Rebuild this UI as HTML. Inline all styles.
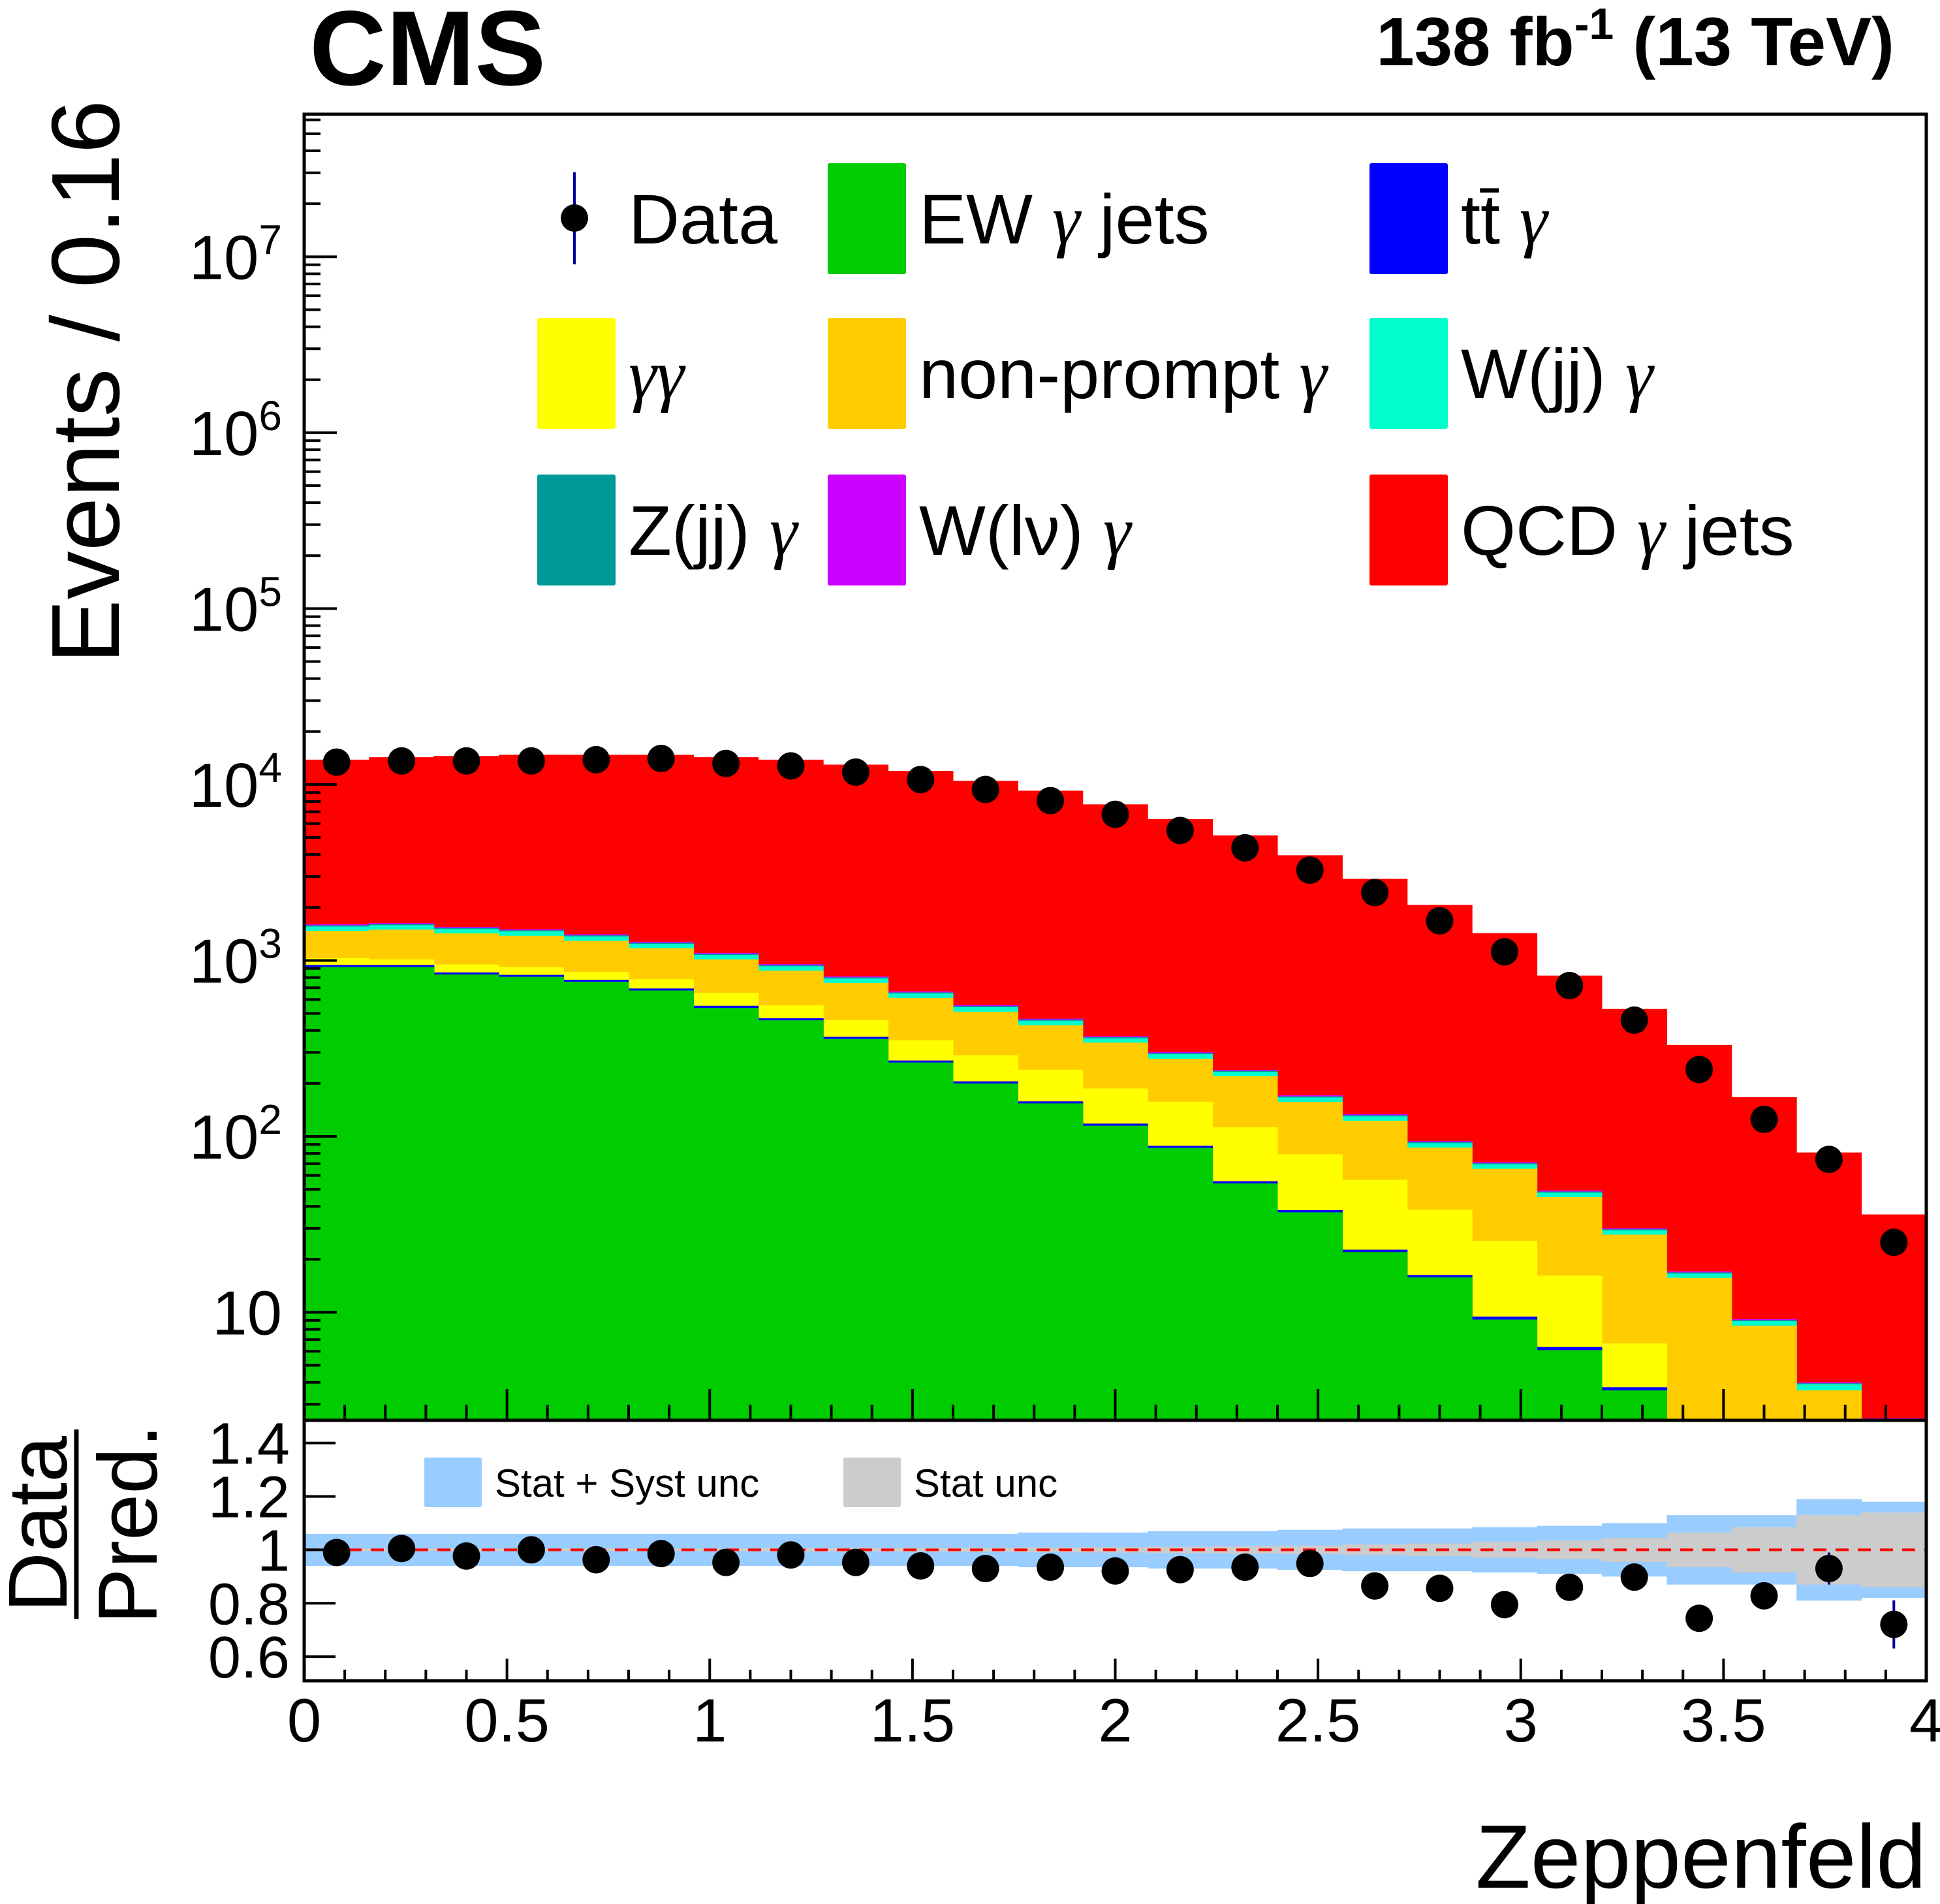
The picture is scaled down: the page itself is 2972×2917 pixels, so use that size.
<!DOCTYPE html>
<html><head><meta charset="utf-8">
<style>
html,body{margin:0;padding:0;background:#fff;}
svg{display:block;font-family:"Liberation Sans",sans-serif;}
.g{font-family:"Liberation Serif",serif;font-style:italic;}
</style></head>
<body>
<svg id="chart" width="2972" height="2917" viewBox="0 0 2972 2917" xmlns="http://www.w3.org/2000/svg">
<text x="474" y="130" font-size="163" font-weight="bold">CMS</text>
<text x="2902" y="100" font-size="105" font-weight="bold" text-anchor="end">138 fb<tspan font-size="68" dy="-40">-1</tspan><tspan dy="40"> (13 TeV)</tspan></text>
<text transform="translate(182,585) rotate(-90)" font-size="148" text-anchor="middle">Events / 0.16</text>
<text transform="translate(102,2335) rotate(-90)" font-size="128" text-anchor="middle">Data</text>
<line x1="117" y1="2190" x2="117" y2="2480" stroke="#000" stroke-width="7"/>
<text transform="translate(240,2335) rotate(-90)" font-size="128" text-anchor="middle">Pred.</text>
<text x="2951" y="2892" font-size="138" text-anchor="end">Zeppenfeld</text>
<g id="main"></g>
<g id="ratio"></g>
<g id="axes"></g>
<g id="legend"></g>
</svg>
<script>
// ---- data ----
const binEdgesStart = 0, binWidth = 0.16;
const ewGammaJets = [918,918,833,807,757,675,538,457,358,263,200,154,115,86,54,37,22,15.8,9.1,6.1,3.6,0,0,0,0];
const ttGamma = [25,25,22,21,20,18,15,12,10,7,5.5,4.2,3.2,2.4,1.6,1.1,0.7,0.5,0.35,0.25,0.15,0,0,0,0];
const gammaGamma = [87,71,94,90,84,89,101,87,89,82,84,81,69,69,57,41,34,22,16,9.8,2.9,0.1,0,0,0];
const nonPrompt = [442,482,476,462,431,391,360,319,288,260,222,189,154,119,107,78,66,48,40,29,21,15.6,8.4,3.6,0];
const wjjGamma = [88,90,85,83,78,70,61,52,45,37,31,26,20,17,13,9.4,7.4,5.2,3.9,2.7,1.6,0.9,0.5,0.3,0];
const zjjGamma = [22,22,21,21,19,17,15,13,11,9,7.7,6.4,5,4.1,3.3,2.4,1.8,1.3,1,0.7,0.4,0.25,0.13,0.05,0];
const wlnuGamma = [22,22,21,20,19,17,15,13,11,9,7.5,6.3,5,4,3.2,2.3,1.8,1.3,1,0.7,0.4,0.25,0.12,0.05,2.5];
const qcdGammaJets = [12240,12660,12970,13260,13350,13480,13190,12890,12160,11290,9940,8755,7340,6050,4900,3790,2776,1976,1359,771,500,314,158,77,33.5];
const dataValues = [13400,13620,13620,13620,13840,14060,13180,12760,11760,10670,9370,8100,6770,5480,4370,3260,2430,1680,1120,720,458,240,125,74,25];
const ratioValues = [0.99,1.005,0.977,1.0,0.963,0.986,0.953,0.981,0.953,0.94,0.93,0.935,0.921,0.926,0.935,0.949,0.865,0.856,0.795,0.86,0.898,0.744,0.828,0.93,0.721];
const ratioErrors = [0.005,0.005,0.005,0.005,0.005,0.005,0.005,0.005,0.006,0.006,0.007,0.008,0.009,0.01,0.011,0.013,0.015,0.018,0.022,0.027,0.033,0.045,0.045,0.06,0.09];
const totUnc = [0.06,0.06,0.06,0.06,0.06,0.06,0.06,0.06,0.06,0.06,0.06,0.065,0.065,0.07,0.07,0.075,0.08,0.08,0.085,0.09,0.1,0.13,0.13,0.19,0.18];
const statUnc = [0.005,0.005,0.005,0.005,0.005,0.005,0.005,0.006,0.006,0.007,0.008,0.009,0.01,0.012,0.014,0.016,0.02,0.024,0.03,0.035,0.045,0.065,0.085,0.13,0.14];
const xTickLabels = ["0","0.5","1","1.5","2","2.5","3","3.5","4"];
const yDecadeLabels = ["10","10²","10³","10⁴","10⁵","10⁶","10⁷"];
const ratioTickLabels = ["0.6","0.8","1","1.2","1.4"];

// ---- geometry ----
const L=466,R=2951,T=175,MB=2176,RT=2180,RB=2575;
const xMin=0,xMax=4, logMin=0.386, logMax=7.81, rMin=0.51, rMax=1.475;
const NS="http://www.w3.org/2000/svg";
const xs=v=>L+(v-xMin)/(xMax-xMin)*(R-L);
const ys=v=>{const lv=Math.log10(Math.max(v,1e-3));return MB-(lv-logMin)/(logMax-logMin)*(MB-T);};
const yr=v=>RB-(v-rMin)/(rMax-rMin)*(RB-RT);
const clampM=y=>Math.max(T,Math.min(MB,y));
const clampR=y=>Math.max(RT,Math.min(RB,y));
function mk(tag,attrs,parent){const e=document.createElementNS(NS,tag);for(const k in attrs)e.setAttribute(k,attrs[k]);parent.appendChild(e);return e;}

const main=document.getElementById('main');
const stackOrder=[[ewGammaJets,'#00cc00','ew-gamma-jets'],[ttGamma,'#0000ff','tt-gamma'],[gammaGamma,'#ffff00','gamma-gamma'],[nonPrompt,'#ffcc00','non-prompt-gamma'],[wjjGamma,'#00ffcc','wjj-gamma'],[zjjGamma,'#009999','zjj-gamma'],[wlnuGamma,'#cc00ff','wlnu-gamma'],[qcdGammaJets,'#ff0000','qcd-gamma-jets']];
const cum=new Array(25).fill(0);
const layers=[];
stackOrder.forEach(([arr,col,name])=>{
  const lo=cum.slice();
  for(let i=0;i<25;i++)cum[i]+=arr[i];
  layers.push([lo,cum.slice(),col,name]);
});
for(let k=layers.length-1;k>=0;k--){
  const [lo,hi,col,name]=layers[k];
  for(let i=0;i<25;i++){
    if(hi[i]<=0)continue;
    const x0=xs(binEdgesStart+i*binWidth),x1=xs(binEdgesStart+(i+1)*binWidth);
    const y1=clampM(ys(hi[i]));
    const r=mk('rect',{x:x0,y:y1,width:x1-x0+0.5,height:MB-y1,fill:col},main);
    
    
  }
}
for(let i=0;i<25;i++){
  const cx=xs(binEdgesStart+(i+0.5)*binWidth),cy=ys(dataValues[i]);
  const c=mk('circle',{cx:cx,cy:cy,r:21,fill:'#000'},main);
  
  
}

// ratio panel
const ratio=document.getElementById('ratio');
for(let i=0;i<25;i++){
  const x0=xs(i*binWidth),x1=xs((i+1)*binWidth);
  const b=mk('rect',{x:x0,y:clampR(yr(1+totUnc[i])),width:x1-x0+0.5,height:clampR(yr(1-totUnc[i]))-clampR(yr(1+totUnc[i])),fill:'#99ccff'},ratio);
  
  
  const s=mk('rect',{x:x0,y:yr(1+statUnc[i]),width:x1-x0+0.5,height:yr(1-statUnc[i])-yr(1+statUnc[i]),fill:'#cccccc'},ratio);
  
  
}
const ln=mk('line',{x1:L,x2:R,y1:yr(1),y2:yr(1),stroke:'#ff0000','stroke-width':4,'stroke-dasharray':'20 14'},ratio);


for(let i=0;i<25;i++){
  const cx=xs((i+0.5)*binWidth),cy=yr(ratioValues[i]);
  if(ratioErrors[i]>0.02){
    const e=mk('line',{x1:cx,x2:cx,y1:clampR(yr(ratioValues[i]+ratioErrors[i])),y2:clampR(yr(ratioValues[i]-ratioErrors[i])),stroke:'#000099','stroke-width':4},ratio);
    
    
  }
  const c=mk('circle',{cx:cx,cy:cy,r:21,fill:'#000'},ratio);
  
  
}

// axes
const ax=document.getElementById('axes');
const f1=mk('rect',{x:L,y:T,width:R-L,height:MB-T,fill:'none',stroke:'#000','stroke-width':5},ax);
 
const f2=mk('rect',{x:L,y:MB,width:R-L,height:RB-MB,fill:'none',stroke:'#000','stroke-width':5},ax);
 
for(let k=0;k<=40;k++){
  const v=k*0.1,x=xs(v),major=(k%5===0);
  const len=major?48:24;
  mk('line',{x1:x,x2:x,y1:MB,y2:MB-len,stroke:'#000','stroke-width':4},ax);
  mk('line',{x1:x,x2:x,y1:RB,y2:RB-(major?34:17),stroke:'#000','stroke-width':4},ax);
}
xTickLabels.forEach((lab,i)=>{
  const t=mk('text',{x:xs(i*0.5),y:2668,'font-size':94,'text-anchor':'middle'},ax);
  t.textContent=lab;
  
  
});
for(let d=0;d<=7;d++){
  for(let m=1;m<=9;m++){
    const v=m*Math.pow(10,d),y=ys(v);
    if(y<T-1||y>MB+1)continue;
    mk('line',{x1:L,x2:L+(m===1?50:25),y1:y,y2:y,stroke:'#000','stroke-width':4},ax);
  }
}
yDecadeLabels.forEach((lab,i)=>{
  const v=Math.pow(10,i+1),y=ys(v);
  const t=mk('text',{x:432,y:y+34,'font-size':96,'text-anchor':'end'},ax);
  if(i===0){t.textContent=lab;}else{
    t.textContent='10';
    const sp=mk('tspan',{'font-size':64,dy:-38},t);sp.textContent=String(i+1);
  }
  
  
});
ratioTickLabels.forEach(lab=>{
  const v=parseFloat(lab),y=yr(v);
  mk('line',{x1:L,x2:L+48,y1:y,y2:y,stroke:'#000','stroke-width':4},ax);
  const t=mk('text',{x:444,y:y+32,'font-size':90,'text-anchor':'end'},ax);
  t.textContent=lab;
  
  
});

// legend
const lg=document.getElementById('legend');
const legendEntries=[
 ['data',null,963,335,'Data'],
 ['ew',       '#00cc00',1408,335,'EW <g>γ</g> jets'],
 ['tt',       '#0000ff',2238,335,'tt̄ <g>γ</g>'],
 ['gg',       '#ffff00',963,572,'<g>γγ</g>'],
 ['np',       '#ffcc00',1408,572,'non-prompt <g>γ</g>'],
 ['wjj',      '#00ffcc',2238,572,'W(jj) <g>γ</g>'],
 ['zjj',      '#009999',963,812,'Z(jj) <g>γ</g>'],
 ['wlnu',     '#cc00ff',1408,812,'W(lν) <g>γ</g>'],
 ['qcd',      '#ff0000',2238,812,'QCD <g>γ</g> jets']];
legendEntries.forEach(([key,col,tx,cy,label])=>{
  const g=mk('g',{},lg);
  
  
  if(col){
    mk('rect',{x:tx-140,y:cy-85,width:120,height:170,fill:col,rx:3},g);
  }else{
    mk('line',{x1:880,x2:880,y1:264,y2:405,stroke:'#000099','stroke-width':4},g);
    mk('circle',{cx:880,cy:334,r:21,fill:'#000'},g);
  }
  const t=mk('text',{x:tx,y:cy+38,'font-size':108},g);
  t.innerHTML=label.replace(/<g>(.*?)<\/g>/g,'<tspan class="g" font-family="Liberation Serif">$1</tspan>');
});
const rl=[['stat-syst-legend','#99ccff',650,'Stat + Syst unc'],['stat-legend','#cccccc',1292,'Stat unc']];
rl.forEach(([n,col,x,lab])=>{
  const g=mk('g',{},lg);
  
  
  mk('rect',{x:x,y:2233,width:88,height:76,fill:col,rx:3},g);
  const t=mk('text',{x:x+108,y:2293,'font-size':60},g);
  t.textContent=lab;
});
</script>
</body></html>
